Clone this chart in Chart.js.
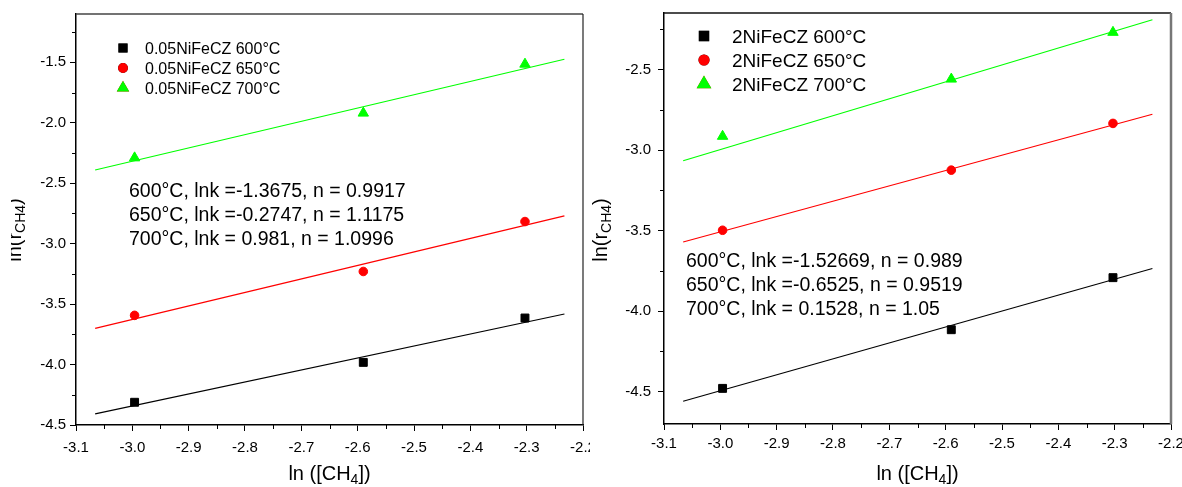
<!DOCTYPE html>
<html>
<head>
<meta charset="UTF-8" />
<title>ln(rCH4) vs ln([CH4])</title>
<style>
  body {
    margin: 0;
    background: #fff;
    width: 1182px;
    height: 487px;
    position: relative;
    overflow: hidden;
  }
  .panel { position: absolute; top: 0; height: 487px; overflow: hidden; }
  #leftPanel { left: 0; width: 590px; }
  #rightPanel { left: 590px; width: 592px; }
</style>
<script src="https://cdn.jsdelivr.net/npm/chart.js"></script>
</head>
<body>

<div class="panel" id="leftPanel"><canvas id="leftChart" width="590" height="487"></canvas></div>
<div class="panel" id="rightPanel"><canvas id="rightChart" width="592" height="487"></canvas></div>

<script>
  // ln([CH4]) for 5, 7.5 and 10 % CH4
  const lnCH4 = [-2.996, -2.590, -2.303];
  const temps = ['600°C', '650°C', '700°C'];
  // fitted lines are drawn a little past the data on both sides
  const fitRange = [-3.066, -2.233];

  // 0.05NiFeCZ
  const ni005Rate600 = [-4.312, -3.982, -3.615];
  const ni005Rate650 = [-3.593, -3.230, -2.817];
  const ni005Rate700 = [-2.290, -1.920, -1.515];
  const ni005Lnk = [-1.3675, -0.2747, 0.981];
  const ni005N = [0.9917, 1.1175, 1.0996];

  // 2NiFeCZ
  const ni2Rate600 = [-4.479, -4.115, -3.792];
  const ni2Rate650 = [-3.498, -3.125, -2.835];
  const ni2Rate700 = [-2.915, -2.560, -2.270];
  const ni2Lnk = [-1.52669, -0.6525, 0.1528];
  const ni2N = [0.989, 0.9519, 1.05];

  const xTicks = { min: -3.1, max: -2.2, step: 0.1 };

  const colors = ['#000000', '#ff0000', '#00ff00'];
  const styles = ['rect', 'circle', 'triangle'];
  const radii = [5.6, 4.3, 6];
  const FONT = "'Liberation Sans', Arial, sans-serif";

  function buildDatasets(prefix, rates, lnk, n) {
    const points = rates.map((ys, i) => ({
      label: prefix + ' ' + temps[i],
      data: lnCH4.map((x, j) => ({ x, y: ys[j] })),
      pointStyle: styles[i],
      pointRadius: radii[i],
      backgroundColor: colors[i],
      borderColor: colors[i],
      borderWidth: 1,
      showLine: false,
      order: 0
    }));
    const fits = lnk.map((k, i) => ({
      label: 'fit ' + temps[i],
      data: fitRange.map(x => ({ x, y: k + n[i] * x })),
      borderColor: colors[i],
      borderWidth: 1.2,
      pointRadius: 0,
      showLine: true,
      order: 1
    }));
    return points.concat(fits);
  }

  function fitText(lnk, n) {
    return lnk.map((k, i) => `${temps[i]}, lnk =${k < 0 ? k : ' ' + k}, n = ${n[i]}`);
  }

  // draws text made of [string, isSubscript] pieces, centred on x
  function drawPieces(ctx, pieces, cx, baseline, size) {
    const subSize = size * 0.7;
    let total = 0;
    const widths = pieces.map(([t, sub]) => {
      ctx.font = `${sub ? subSize : size}px ${FONT}`;
      const w = ctx.measureText(t).width;
      total += w;
      return w;
    });
    let x = cx - total / 2;
    pieces.forEach(([t, sub], i) => {
      ctx.font = `${sub ? subSize : size}px ${FONT}`;
      ctx.fillText(t, x, baseline + (sub ? size * 0.22 : 0));
      x += widths[i];
    });
  }

  const panelText = {
    id: 'panelText',
    afterDraw(chart, args, o) {
      const { ctx, chartArea: a, scales: { x, y } } = chart;
      ctx.save();
      ctx.fillStyle = '#000';
      ctx.textAlign = 'left';
      ctx.textBaseline = 'alphabetic';

      // minor ticks
      ctx.strokeStyle = '#000';
      ctx.lineWidth = 1;
      ctx.beginPath();
      for (let k = Math.ceil(x.min * 20 - 1e-6); k <= Math.floor(x.max * 20 + 1e-6); k++) {
        if (k % 2 === 0) continue;
        const px = Math.round(x.getPixelForValue(k / 20)) + 0.5;
        ctx.moveTo(px, a.bottom);
        ctx.lineTo(px, a.bottom + 4);
      }
      for (let k = Math.ceil(y.min * 4 - 1e-6); k <= Math.floor(y.max * 4 + 1e-6); k++) {
        if (k % 2 === 0) continue;
        const py = Math.round(y.getPixelForValue(k / 4)) + 0.5;
        ctx.moveTo(a.left, py);
        ctx.lineTo(a.left - 4, py);
      }
      ctx.stroke();

      // top and right edges of the frame
      ctx.lineWidth = 1.5;
      ctx.strokeStyle = o.topColor;
      ctx.beginPath();
      ctx.moveTo(a.left, a.top);
      ctx.lineTo(a.right, a.top);
      ctx.stroke();
      ctx.lineWidth = o.rightWidth;
      ctx.strokeStyle = o.rightColor;
      ctx.beginPath();
      ctx.moveTo(a.right, a.top);
      ctx.lineTo(a.right, a.bottom);
      ctx.stroke();

      // legend
      chart.data.datasets.slice(0, 3).forEach((ds, i) => {
        const ly = o.legend.y + i * o.legend.dy;
        Chart.helpers.drawPoint(ctx, {
          pointStyle: ds.pointStyle, radius: ds.pointRadius, rotation: 0, borderWidth: 1
        }, o.legend.x, ly);
        ctx.fillStyle = ds.backgroundColor;
        ctx.strokeStyle = ds.borderColor;
        ctx.fill();
        ctx.stroke();
        ctx.fillStyle = '#000';
        ctx.font = `${o.legend.size}px ${FONT}`;
        ctx.fillText(ds.label, o.legend.textX, ly + o.legend.size * 0.36);
      });

      // fit results
      ctx.font = `${o.fit.size}px ${FONT}`;
      o.fit.lines.forEach((t, i) => ctx.fillText(t, o.fit.x, o.fit.y + i * o.fit.dy));

      // x axis title
      drawPieces(ctx, [['ln ([CH', false], ['4', true], ['])', false]],
        (a.left + a.right) / 2, o.xTitleY, 20);

      // y axis title
      ctx.save();
      ctx.beginPath();
      ctx.rect(o.yTitleClip, 0, chart.width, chart.height);
      ctx.clip();
      ctx.translate(o.yTitleX, o.yTitleY);
      ctx.rotate(-Math.PI / 2);
      drawPieces(ctx, [['ln(r', false], ['CH4', true], [')', false]], 0, 0, 20);
      ctx.restore();

      ctx.restore();
    }
  };

  function makePanel(id, cfg) {
    return new Chart(document.getElementById(id), {
      type: 'scatter',
      data: { datasets: cfg.datasets },
      options: {
        responsive: false,
        animation: false,
        events: [],
        layout: { autoPadding: false, padding: { top: cfg.top, right: cfg.right, left: 0, bottom: 0 } },
        plugins: {
          legend: { display: false },
          tooltip: { enabled: false },
          panelText: cfg.text
        },
        scales: {
          x: {
            type: 'linear',
            min: xTicks.min,
            max: xTicks.max,
            afterFit: s => {
              s.height = cfg.xHeight;
              s.paddingLeft = 0;
              s.paddingRight = 0;
            },
            ticks: {
              stepSize: xTicks.step,
              includeBounds: false,
              autoSkip: false,
              maxRotation: 0,
              color: '#000',
              padding: cfg.xPad,
              font: { family: FONT, size: 15 },
              callback: v => Number(v).toFixed(1)
            },
            grid: { drawOnChartArea: false, tickLength: 6, tickColor: '#000', tickWidth: 1 },
            border: { color: '#000', width: 1.5 }
          },
          y: {
            type: 'linear',
            min: cfg.yMin,
            max: cfg.yMax,
            afterFit: s => {
              s.width = cfg.yWidth;
              s.paddingTop = 0;
              s.paddingBottom = 0;
            },
            ticks: {
              stepSize: 0.5,
              includeBounds: false,
              autoSkip: false,
              color: '#000',
              padding: cfg.yPad,
              font: { family: FONT, size: 15 },
              callback: v => Number(v).toFixed(1)
            },
            grid: { drawOnChartArea: false, tickLength: 6, tickColor: '#000', tickWidth: 1 },
            border: { color: '#000', width: 1.5 }
          }
        }
      },
      plugins: [panelText]
    });
  }

  makePanel('leftChart', {
    datasets: buildDatasets('0.05NiFeCZ', [ni005Rate600, ni005Rate650, ni005Rate700], ni005Lnk, ni005N),
    top: 14, right: 7, xHeight: 62, yWidth: 76,
    yMin: -4.5, yMax: -1.1, xPad: 8, yPad: 4,
    text: {
      topColor: '#444', rightColor: '#222', rightWidth: 1.2,
      legend: { x: 123, y: 48, dy: 20, textX: 145, size: 16 },
      fit: { x: 129, y: 197, dy: 24, size: 19.5, lines: fitText(ni005Lnk, ni005N) },
      xTitleY: 480,
      yTitleX: 21, yTitleY: 230, yTitleClip: 11
    }
  });

  makePanel('rightChart', {
    datasets: buildDatasets('2NiFeCZ', [ni2Rate600, ni2Rate650, ni2Rate700], ni2Lnk, ni2N),
    top: 13, right: 11, xHeight: 63, yWidth: 74,
    yMin: -4.7, yMax: -2.15, xPad: 5, yPad: 7,
    text: {
      topColor: '#111', rightColor: '#777', rightWidth: 2.5,
      legend: { x: 114, y: 36, dy: 24, textX: 142, size: 19 },
      fit: { x: 96, y: 267, dy: 24, size: 19.5, lines: fitText(ni2Lnk, ni2N) },
      xTitleY: 480,
      yTitleX: 17, yTitleY: 230, yTitleClip: 0
    }
  });
</script>

</body>
</html>
